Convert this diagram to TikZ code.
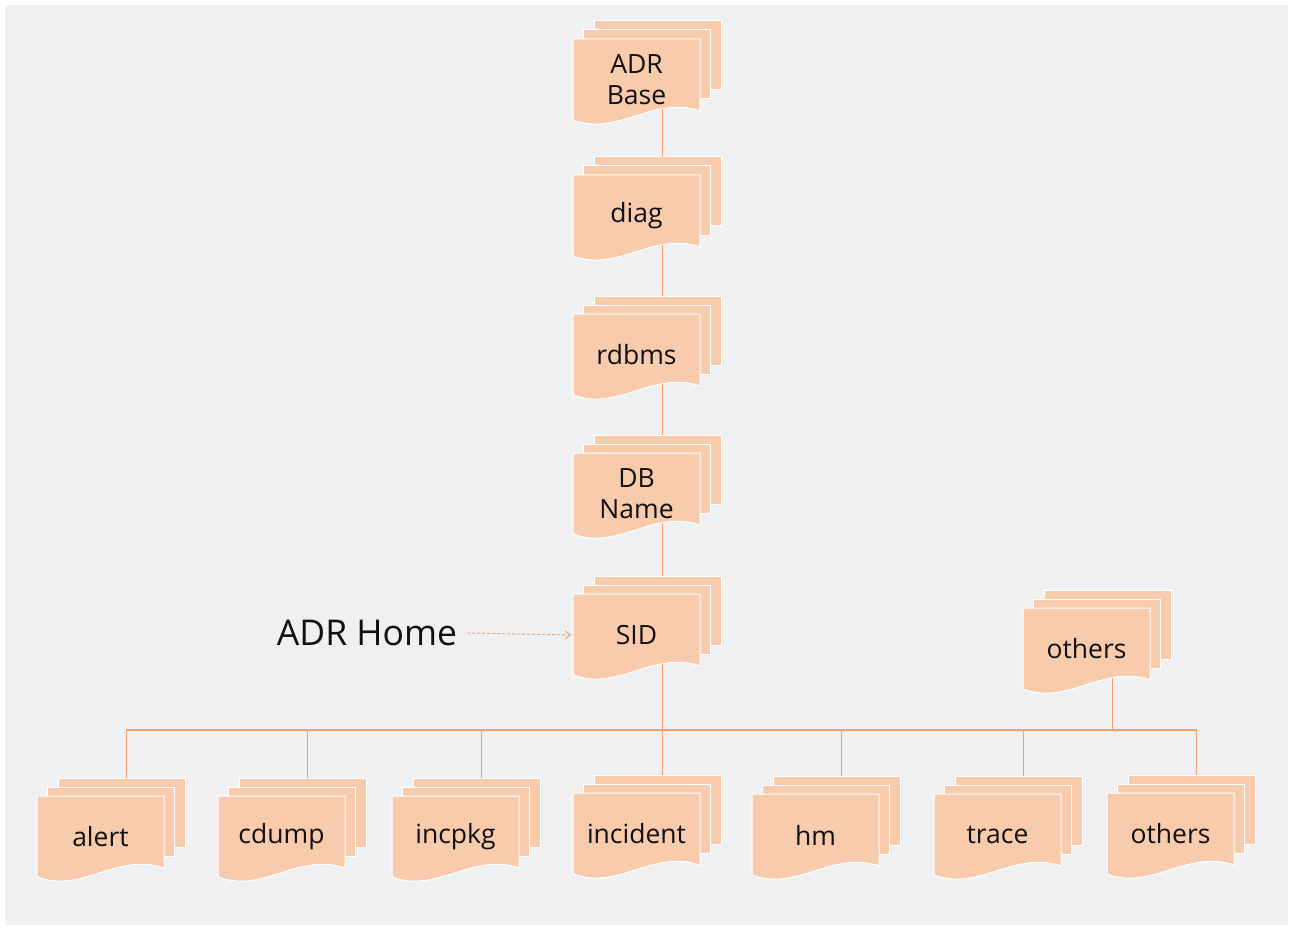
\documentclass[tikz,border=0pt]{standalone}
\usepackage{fontspec}
\setmainfont{Open Sans}
\usetikzlibrary{arrows.meta}
\definecolor{sheetfill}{HTML}{F8CBAD}
\definecolor{linkcol}{HTML}{F0A070}
\definecolor{panel}{HTML}{EFF0F2}
\definecolor{txtcol}{HTML}{101010}
\tikzset{
  sheet/.style={fill=sheetfill, draw=white, line width=1pt},
  label/.style={text=txtcol, align=center, font=\fontsize{26.5}{31}\selectfont, inner sep=0pt},
  link/.style={draw=linkcol, line width=1.3pt},
  pointer/.style={draw=linkcol, line width=0.9pt, dash pattern=on 3pt off 2pt, -{Straight Barb[length=5pt,width=8pt]}},
}
\newcommand\docstack[4]{%
  \path[sheet] (#2+21,#3-18) rectangle ++(127,69);
  \path[sheet] (#2+10,#3-9) rectangle ++(127,69);
  \path[sheet] (#2,#3) -- ++(127,0) -- ++(0,72)
     .. controls (#2+80,#3+56) and (#2+45,#3+98) .. (#2,#3+81) -- cycle;
  \node[label] (#1) at (#2+63.5,#3+41) {#4};
  \coordinate (#1-top) at (#2+89.5,#3-18);
  \coordinate (#1-bot) at (#2+89.5,#3+70);
}
\begin{document}
\begin{tikzpicture}[x=1pt,y=-1pt]
\useasboundingbox (0,0) rectangle (1290,928);
\fill[white] (0,0) rectangle (1290,928);
\fill[panel] (5,5) rectangle (1288,925);

\docstack{base}{573}{39}{ADR\\Base}
\docstack{diag}{573}{175}{diag}
\docstack{rdbms}{573}{314}{rdbms}
\docstack{dbname}{573}{453}{DB\\Name}
\docstack{sid}{573}{594}{SID}
\docstack{othersA}{1023}{608}{others}
\docstack{alert}{37}{796}{alert}
\docstack{cdump}{218}{796}{cdump}
\docstack{incpkg}{392}{796}{incpkg}
\docstack{incident}{573}{793}{incident}
\docstack{hm}{752}{794}{hm}
\docstack{trace}{934}{794}{trace}
\docstack{othersB}{1107}{793}{others}

\coordinate (bar) at (662,730);

\draw[link] (base-bot) -- (diag-top);
\draw[link] (diag-bot) -- (rdbms-top);
\draw[link] (rdbms-bot) -- (dbname-top);
\draw[link] (dbname-bot) -- (sid-top);
\draw[link] (sid-bot) -- (incident-top);
\draw[link] (alert-top) |- (bar) -| (othersB-top);
\draw[link] (cdump-top) -- (cdump-top |- bar);
\draw[link] (incpkg-top) -- (incpkg-top |- bar);
\draw[link] (hm-top) -- (hm-top |- bar);
\draw[link] (trace-top) -- (trace-top |- bar);
\draw[link] (othersA-bot) -- (othersA-bot |- bar);

\node[text=txtcol, font=\fontsize{35.5}{40}\selectfont, inner sep=0pt] (home) at (367,633) {ADR Home};
\draw[pointer] (home.east) ++(10,0) coordinate (homeout) (homeout) -- (sid.west -| 571,0);
\end{tikzpicture}
\end{document}
